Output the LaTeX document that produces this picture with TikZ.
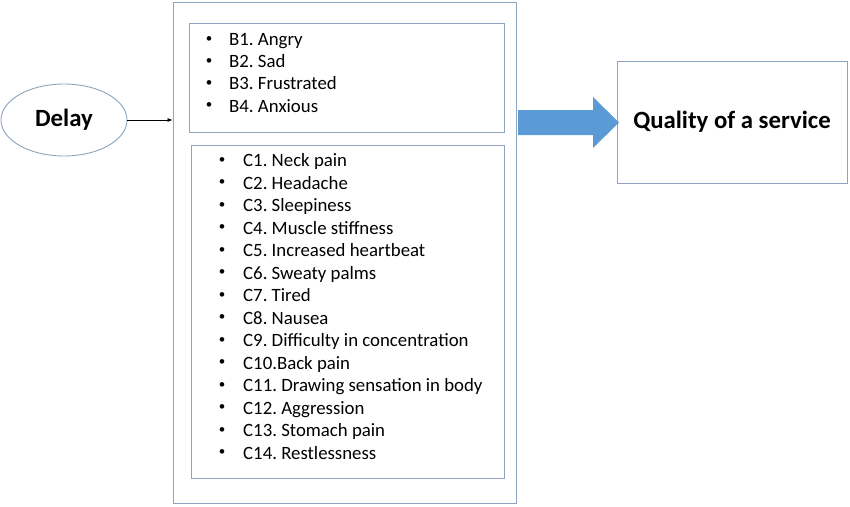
\documentclass[tikz,border=0pt]{standalone}
\usepackage{fontspec}
\setmainfont{Carlito}
\usetikzlibrary{arrows.meta,shapes.geometric}
\definecolor{boxline}{RGB}{141,163,192}
\definecolor{arrowblue}{RGB}{91,155,213}
\frenchspacing
\begin{document}
\begin{tikzpicture}[x=1pt,y=-1pt,
    frame/.style={draw=boxline, line width=0.9pt, inner sep=0pt},
    item/.style={anchor=base west, inner sep=0pt, font=\fontsize{18.8}{22}\selectfont},
    dot/.style={anchor=base, inner sep=0pt, font=\fontsize{13}{15}\selectfont},
    title/.style={font=\fontsize{24.8}{29}\selectfont\bfseries}]
    \useasboundingbox (0,0) rectangle (850,506);

    % boxes
    \node[frame, minimum width=343pt, minimum height=501pt] (outer) at (344.5,252.5) {};
    \node[frame, minimum width=315pt, minimum height=109pt] (emotions) at (346.5,77.5) {};
    \node[frame, minimum width=313pt, minimum height=333pt] (symptoms) at (347.5,311.5) {};
    \node[frame, minimum width=230pt, minimum height=122pt, title] (quality) at (732,122) {Quality of a service};
    \node[frame, ellipse, minimum width=126pt, minimum height=72pt, title] (delay) at (64,120) {Delay};

    % arrows
    \draw[-{Latex[length=5pt,width=4pt]}, line width=0.7pt] (delay) -- (delay -| outer.west);
    \fill[arrowblue] (518,110) -- (593,110) -- (593,97) -- (619,122.5) -- (593,148) -- (593,135) -- (518,135) -- cycle;

    % lists
    \foreach \t [count=\i] in {B1. Angry, B2. Sad, B3. Frustrated, B4. Anxious}{
        \node[dot] (bd\i) at (209,42.5+22.1*\i-22.1) {•};
        \node[item] (b\i) at (229,45.7+22.1*\i-22.1) {\t};
    }
    \foreach \t [count=\i] in {C1. Neck pain, C2. Headache, C3. Sleepiness, C4. Muscle stiffness,
        C5. Increased heartbeat, C6. Sweaty palms, C7. Tired, C8. Nausea,
        C9. Difficulty in concentration, C10.Back pain, C11. Drawing sensation in body,
        C12. Aggression, C13. Stomach pain, C14. Restlessness}{
        \node[dot] (cd\i) at (222,163.3+22.5*\i-22.5) {•};
        \node[item] (c\i) at (243,166.5+22.5*\i-22.5) {\t};
    }
\end{tikzpicture}
\end{document}
